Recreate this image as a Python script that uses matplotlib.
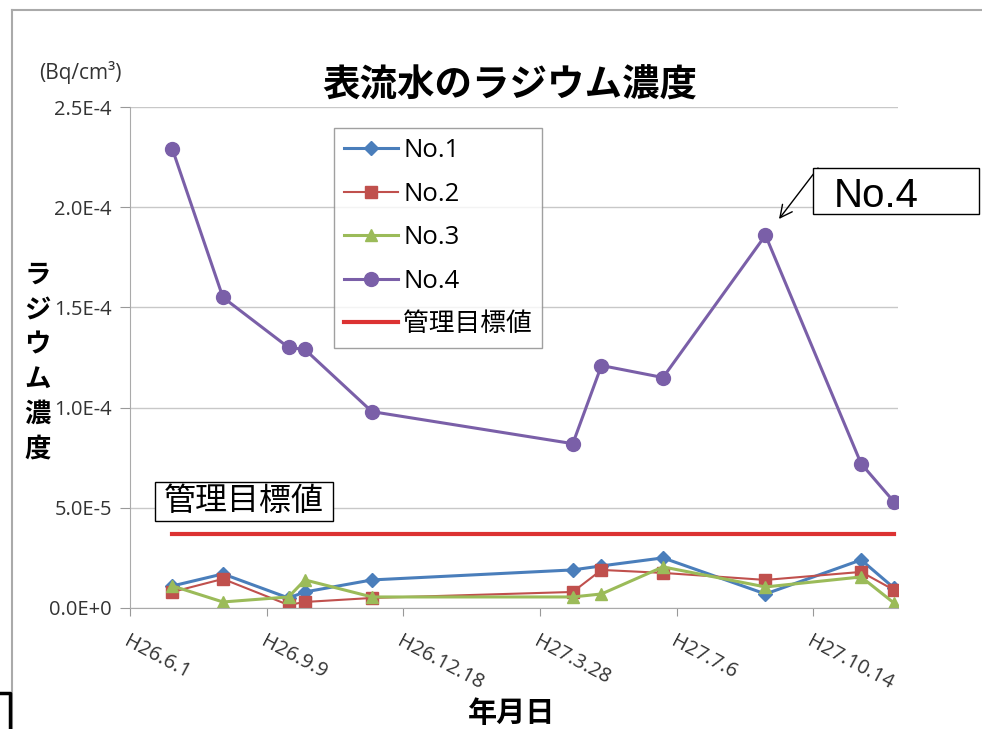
import numpy as np
import pandas as pd
import matplotlib
matplotlib.use('Agg')
import matplotlib.pyplot as plt
from matplotlib.lines import Line2D
from matplotlib.patches import Rectangle

plt.rcParams['font.family'] = ['Open Sans', 'Noto Sans CJK JP', 'DejaVu Sans']

# 測定日
dates = pd.to_datetime(['2014-07-02', '2014-08-08', '2014-09-25', '2014-10-07',
                        '2014-11-25', '2015-04-21', '2015-05-12', '2015-06-26',
                        '2015-09-09', '2015-11-18', '2015-12-12'])

# ラジウム濃度 (Bq/cm3)
no1 = [1.1e-5, 1.7e-5, 0.5e-5, 0.8e-5, 1.4e-5, 1.9e-5, 2.1e-5, 2.5e-5, 0.7e-5, 2.4e-5, 1.0e-5]
no2 = [0.8e-5, 1.45e-5, 0.15e-5, 0.3e-5, 0.5e-5, 0.8e-5, 1.9e-5, 1.75e-5, 1.4e-5, 1.8e-5, 0.9e-5]
no3 = [1.1e-5, 0.3e-5, 0.55e-5, 1.4e-5, 0.55e-5, 0.55e-5, 0.7e-5, 2.05e-5, 1.05e-5, 1.55e-5, 0.25e-5]
no4 = [2.29e-4, 1.55e-4, 1.30e-4, 1.29e-4, 0.98e-4, 0.82e-4, 1.21e-4, 1.15e-4, 1.86e-4, 0.72e-4, 0.53e-4]
target = [3.7e-5] * len(dates)

tick_dates = pd.to_datetime(['2014-06-01', '2014-09-09', '2014-12-18',
                             '2015-03-28', '2015-07-06', '2015-10-14'])
tick_labels = ['H26.6.1', 'H26.9.9', 'H26.12.18', 'H27.3.28', 'H27.7.6', 'H27.10.14']
y_ticks = [0, 5e-5, 1e-4, 1.5e-4, 2e-4, 2.5e-4]
y_labels = ['0.0E+0', '5.0E-5', '1.0E-4', '1.5E-4', '2.0E-4', '2.5E-4']

W, H = 982, 729
fig = plt.figure(figsize=(W / 100, H / 100), dpi=100)
ax = fig.add_axes([0.1324, 0.166, 0.7821, 0.6872])

ax.plot(dates, no1, color='#4A7EBB', lw=2.2, marker='D', ms=7, label='No.1')
ax.plot(dates, no2, color='#C0504D', lw=1.5, marker='s', ms=9, label='No.2')
ax.plot(dates, no3, color='#9BBB59', lw=2.2, marker='^', ms=9, label='No.3')
ax.plot(dates, no4, color='#7A5FA8', lw=2.2, marker='o', ms=10, label='No.4')
ax.plot(dates, target, color='#DC3232', lw=3, label='管理目標値')

ax.set_xlim(pd.Timestamp('2014-06-01'), pd.Timestamp('2015-12-15'))
ax.set_ylim(0, 2.5e-4)
ax.set_xticks(tick_dates)
ax.set_xticklabels(tick_labels, rotation=-28, ha='left', va='top',
                   rotation_mode='anchor', fontsize=14.5, color='#333333')
ax.set_yticks(y_ticks)
ax.set_yticklabels(y_labels, fontsize=14.5, color='#333333')
ax.tick_params(axis='x', length=6, color='#999999', pad=11)
ax.tick_params(axis='y', length=7, color='#999999', pad=6)

ax.grid(axis='y', color='#c8c8c8', lw=1)
ax.set_axisbelow(True)
for s in ['top', 'right']:
    ax.spines[s].set_visible(False)
for s in ['left', 'bottom']:
    ax.spines[s].set_color('#aaaaaa')

leg = ax.legend(loc='upper left', bbox_to_anchor=(0.2656, 0.958), fontsize=18.5,
                frameon=True, fancybox=False, edgecolor='#888888',
                handlelength=2.1, handletextpad=0.2, labelspacing=0.72,
                borderpad=0.4, borderaxespad=0)
leg.get_frame().set_linewidth(1)

# タイトル・軸ラベル
fig.text(0.519, 0.883, '表流水のラジウム濃度', ha='center', va='center',
         fontsize=27, fontweight='bold', family=['Noto Sans CJK JP'])
fig.text(0.040, 0.9, '(Bq/cm³)', ha='left', va='center', fontsize=15, color='#333333')
fig.text(0.038, 0.503, 'ラ\nジ\nウ\nム\n濃\n度', ha='center', va='center',
         fontsize=19, fontweight='bold', linespacing=1.37, family=['Noto Sans CJK JP'])
fig.text(0.521, 0.022, '年月日', ha='center', va='center',
         fontsize=21, fontweight='bold', family=['Noto Sans CJK JP'])

# 注記ボックス
fig.add_artist(Rectangle((155 / W, 1 - 521 / H), 178 / W, 39 / H,
                         transform=fig.transFigure, fc='white', ec='black', lw=1))
fig.text(244 / W, 1 - 501 / H, '管理目標値', ha='center', va='center', fontsize=23,
         family=['Noto Sans CJK JP'])
fig.add_artist(Rectangle((813 / W, 1 - 214 / H), 166 / W, 46 / H,
                         transform=fig.transFigure, fc='white', ec='black', lw=1))
fig.text(834 / W, 1 - 207 / H, 'No.4', ha='left', va='baseline', fontsize=29,
         family=['Liberation Sans'])
ax.annotate('', xy=(779 / W, 1 - 219 / H), xycoords='figure fraction',
            xytext=(818 / W, 1 - 168 / H), textcoords='figure fraction',
            arrowprops=dict(arrowstyle='->', color='black', lw=1, mutation_scale=22,
                            shrinkA=0, shrinkB=0))

# 外枠
fig.add_artist(Line2D([12 / W, 1], [1 - 10 / H, 1 - 10 / H],
                      transform=fig.transFigure, color='#aaaaaa', lw=1.5))
fig.add_artist(Line2D([12 / W, 12 / W], [0, 1 - 10 / H],
                      transform=fig.transFigure, color='#aaaaaa', lw=1.5))
fig.add_artist(Line2D([0, 10 / W, 10 / W], [1 - 693 / H, 1 - 693 / H, 0],
                      transform=fig.transFigure, color='black', lw=2.5))

fig.savefig('out.png', dpi=100)
